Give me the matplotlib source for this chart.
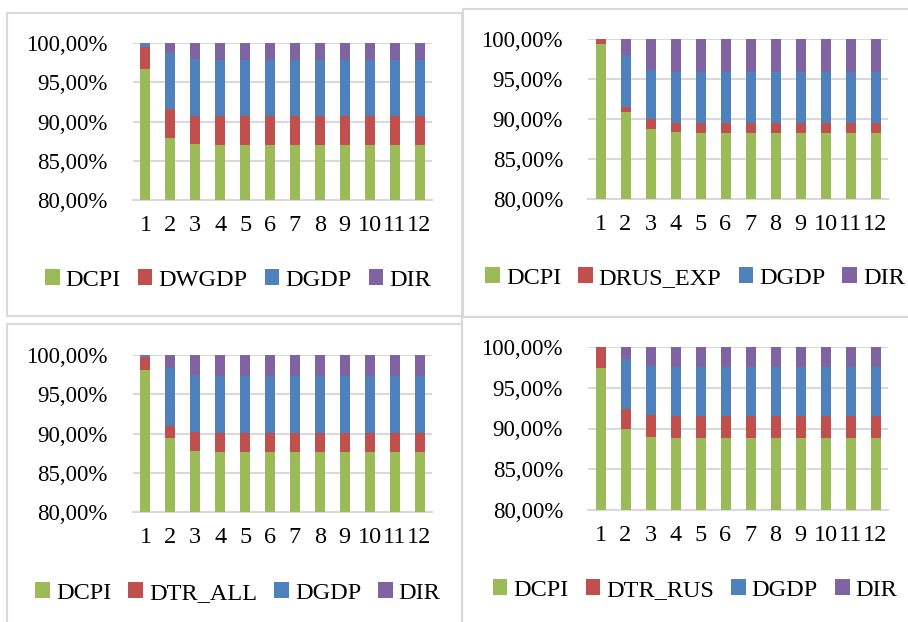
import matplotlib
matplotlib.use("Agg")
import matplotlib.pyplot as plt
from matplotlib.patches import Rectangle, Patch
from matplotlib.ticker import FuncFormatter, MultipleLocator

# Dane (udziały w %)
periods = [str(i) for i in range(1, 13)]

p1_dcpi = [96.65, 87.88, 87.08, 86.95, 86.95, 86.95, 86.95, 86.95, 86.95, 86.95, 86.95, 86.95]
p1_dwgdp = [2.84, 3.65, 3.68, 3.73, 3.73, 3.73, 3.73, 3.73, 3.73, 3.73, 3.73, 3.73]
p1_dgdp = [0.45, 7.24, 7.24, 7.20, 7.20, 7.20, 7.20, 7.20, 7.20, 7.20, 7.20, 7.20]
p1_dir = [0.06, 1.23, 2.00, 2.12, 2.12, 2.12, 2.12, 2.12, 2.12, 2.12, 2.12, 2.12]

p2_dcpi = [99.42, 90.89, 88.73, 88.36, 88.27, 88.27, 88.27, 88.27, 88.27, 88.27, 88.27, 88.27]
p2_drus_exp = [0.58, 0.59, 1.21, 1.20, 1.21, 1.21, 1.21, 1.21, 1.21, 1.21, 1.21, 1.21]
p2_dgdp = [0.0, 6.48, 6.23, 6.28, 6.36, 6.36, 6.36, 6.36, 6.36, 6.36, 6.36, 6.36]
p2_dir = [0.0, 2.04, 3.83, 4.16, 4.16, 4.16, 4.16, 4.16, 4.16, 4.16, 4.16, 4.16]

p3_dcpi = [98.05, 89.43, 87.78, 87.65, 87.65, 87.65, 87.65, 87.65, 87.65, 87.65, 87.65, 87.65]
p3_dtr_all = [1.70, 1.56, 2.41, 2.41, 2.41, 2.41, 2.41, 2.41, 2.41, 2.41, 2.41, 2.41]
p3_dgdp = [0.25, 7.40, 7.27, 7.32, 7.32, 7.32, 7.32, 7.32, 7.32, 7.32, 7.32, 7.32]
p3_dir = [0.0, 1.61, 2.54, 2.62, 2.62, 2.62, 2.62, 2.62, 2.62, 2.62, 2.62, 2.62]

p4_dcpi = [97.43, 89.96, 88.98, 88.86, 88.86, 88.86, 88.86, 88.86, 88.86, 88.86, 88.86, 88.86]
p4_dtr_rus = [2.57, 2.45, 2.65, 2.65, 2.65, 2.65, 2.65, 2.65, 2.65, 2.65, 2.65, 2.65]
p4_dgdp = [0.0, 6.08, 6.00, 6.00, 6.00, 6.00, 6.00, 6.00, 6.00, 6.00, 6.00, 6.00]
p4_dir = [0.0, 1.51, 2.37, 2.49, 2.49, 2.49, 2.49, 2.49, 2.49, 2.49, 2.49, 2.49]

panels = [
    (["DCPI", "DWGDP", "DGDP", "DIR"], [p1_dcpi, p1_dwgdp, p1_dgdp, p1_dir]),
    (["DCPI", "DRUS_EXP", "DGDP", "DIR"], [p2_dcpi, p2_drus_exp, p2_dgdp, p2_dir]),
    (["DCPI", "DTR_ALL", "DGDP", "DIR"], [p3_dcpi, p3_dtr_all, p3_dgdp, p3_dir]),
    (["DCPI", "DTR_RUS", "DGDP", "DIR"], [p4_dcpi, p4_dtr_rus, p4_dgdp, p4_dir]),
]

colors = ["#9BBB59", "#C0504D", "#4F81BD", "#8064A2"]
grid_col = "#d9d9d9"

W, H = 908, 622
plt.rcParams["font.family"] = ["Liberation Serif", "DejaVu Serif"]
fig = plt.figure(figsize=(W / 100, H / 100), dpi=100)

# pozycje w pikselach: (lewo, prawo, góra, dół) obszaru wykresu
ax_px = [(133, 432, 43, 200), (588, 888, 39, 199), (133, 432, 355, 512), (588, 888, 347, 510)]
box_px = [(7, 462, 13, 316), (463, 912, 9, 317), (7, 462, 324, 626), (462, 912, 317, 626)]
legend_px = [(238, 280), (695, 278), (238, 593), (695, 590)]


def pct(v, pos):
    return f"{v:.2f}%".replace(".", ",")


for (names, series), (l, r, t, b), (bl, br, bt, bb), (lx, ly) in zip(panels, ax_px, box_px, legend_px):
    # ramka panelu
    fig.add_artist(Rectangle((bl / W, 1 - bb / H), (br - bl) / W, (bb - bt) / H,
                             transform=fig.transFigure, fill=False,
                             edgecolor=grid_col, linewidth=1.5))
    ax = fig.add_axes([l / W, 1 - b / H, (r - l) / W, (b - t) / H])
    x = list(range(len(periods)))
    bottom = [0.0] * len(periods)
    for name, vals, c in zip(names, series, colors):
        ax.bar(x, vals, bottom=bottom, width=0.4, color=c, label=name, zorder=3)
        bottom = [bo + v for bo, v in zip(bottom, vals)]
    ax.set_ylim(80, 100)
    ax.set_xlim(-0.5, len(periods) - 0.5)
    ax.yaxis.set_major_locator(MultipleLocator(5))
    ax.yaxis.set_major_formatter(FuncFormatter(pct))
    ax.set_xticks(x)
    ax.set_xticklabels(periods)
    ax.tick_params(axis="both", length=0)
    ax.tick_params(axis="y", pad=18, labelsize=16.5)
    ax.tick_params(axis="x", pad=11, labelsize=17.5)
    ax.grid(axis="y", color=grid_col, linewidth=1.5, zorder=0)
    for s in ["top", "right", "left"]:
        ax.spines[s].set_visible(False)
    ax.spines["bottom"].set_color(grid_col)
    ax.spines["bottom"].set_linewidth(1.5)
    handles = [Patch(facecolor=c) for c in colors]
    fig.legend(handles, names, loc="center", bbox_to_anchor=(lx / W, 1 - ly / H),
               ncol=4, frameon=False, fontsize=17.5, handlelength=0.6, handleheight=0.6,
               handletextpad=0.25, columnspacing=0.7, borderpad=0)

fig.savefig("out.png", dpi=100, facecolor="white")
